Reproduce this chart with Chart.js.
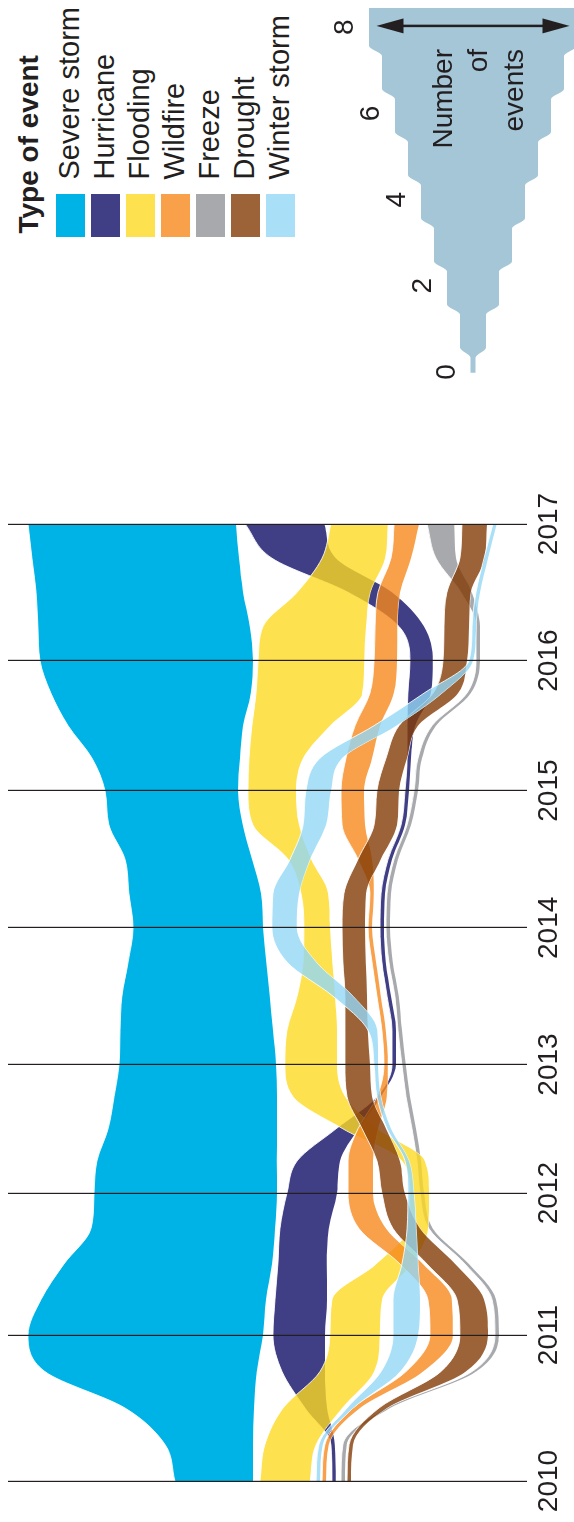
<!DOCTYPE html>
<html><head><meta charset="utf-8">
<script src="https://cdn.jsdelivr.net/npm/chart.js@4.4.1/dist/chart.umd.min.js"></script>
<style>
html,body{margin:0;padding:0;background:#fff;}
body{width:574px;height:1522px;overflow:hidden;position:relative;}
#stage{position:absolute;left:0;top:0;width:1522px;height:574px;transform-origin:0 0;transform:translate(0,1522px) rotate(-90deg);font-family:"Liberation Sans",Arial,sans-serif;color:#231f20;}
#main{position:absolute;left:0;top:0;}
#key{position:absolute;left:1120px;top:300px;}
.title{position:absolute;left:1288.5px;top:14.7px;font-size:28px;line-height:28px;font-weight:bold;white-space:nowrap;}
.item{position:absolute;left:1285px;width:230px;height:29px;}
.sw{position:absolute;left:0;top:0;width:43px;height:29px;}
.lab{position:absolute;left:57.5px;top:-1.5px;font-size:29px;line-height:29px;white-space:nowrap;}
.numtxt{position:absolute;right:49px;top:424.5px;font-size:28px;line-height:35.5px;text-align:right;white-space:nowrap;}
</style></head>
<body>
<div id="stage">
  <canvas id="main" width="1100" height="574"></canvas>
  <canvas id="key" width="402" height="274"></canvas>
  <div class="title">Type of event</div>
  <div id="legend"></div>
  <div class="numtxt">Number<br>of<br>events</div>
</div>
<script>
// ---- data (values in number of events) ----
const years = [2010,2010.25,2010.5,2010.75,2011,2011.25,2011.5,2011.75,2012,2012.25,2012.5,2012.75,2013,2013.25,2013.5,2013.75,2014,2014.25,2014.5,2014.75,2015,2015.25,2015.5,2015.75,2016,2016.25,2016.5,2016.75,2017];
const yearLabels = ['2010','2011','2012','2013','2014','2015','2016','2017'];
const categories = ['Severe storm','Hurricane','Flooding','Wildfire','Freeze','Drought','Winter storm'];

// stream offset (top edge of each band) and band thickness (count)
const severeStormPos = [6.42,6.04,4.50,1.42,0.77,1.27,2.15,3.19,3.31,3.42,3.85,4.08,4.27,4.31,4.38,4.62,4.81,4.65,4.50,3.88,3.73,3.23,2.31,1.65,1.23,1.15,1.08,0.92,0.77];
const severeStormCount = [3.00,3.38,4.96,8.15,9.04,8.65,8.00,7.08,7.04,6.92,6.50,6.27,6.04,5.88,5.69,5.31,5.00,5.08,4.88,5.15,5.12,5.69,6.73,7.69,8.19,8.15,7.96,7.96,8.00];

const hurricanePos = [12.46,12.42,11.42,10.54,10.19,10.27,10.38,10.46,10.73,11.12,12.62,14.19,14.77,14.77,14.58,14.38,14.31,14.35,14.62,15.12,15.27,15.35,15.35,15.38,15.46,15.04,13.08,10.15,9.12];
const hurricaneCount = [0,0,0.85,1.65,2.00,2.00,1.88,1.88,1.92,1.65,0.85,0,0,0,0,0,0,0,0,0,0,0,0.31,0.88,0.88,0.96,1.69,2.46,3.04];

const floodingPos = [9.69,9.88,10.58,12.00,12.38,12.46,14.15,15.38,15.46,15.15,12.88,10.96,10.65,10.73,11.12,11.35,11.38,11.27,10.77,9.42,9.23,9.27,9.38,9.54,9.62,9.81,11.12,12.08,12.42];
const floodingCount = [1.92,1.96,2.27,2.08,1.92,1.92,1.35,0.77,0.73,0.88,1.31,2.00,2.00,1.92,1.46,1.12,1.00,1.04,0.88,1.77,1.85,2.08,3.00,4.08,4.08,3.96,2.81,2.42,2.19];

const wildfirePos = [12.08,12.19,13.27,15.31,16.23,16.15,15.08,13.50,13.08,13.08,13.46,14.19,14.46,14.38,14.19,14.00,13.85,13.92,13.46,12.85,12.81,13.00,13.35,13.92,14.08,14.12,14.23,14.73,14.85];
const wildfireCount = [0,0,0.27,0.65,0.88,0.92,0.88,1.04,0.96,0.96,0.77,0.38,0,0,0,0,0,0,0.54,0.88,0.88,1.00,0.96,0.92,0.88,0.85,0.85,0.77,0.96];

const freezePos = [12.81,12.88,14.54,17.85,18.73,18.62,17.58,16.19,15.85,15.73,15.54,15.31,15.15,15.00,14.88,14.65,14.54,14.58,14.85,15.35,15.62,15.77,16.31,17.65,18.00,18.00,17.42,16.46,16.12];
const freezeCount = [0,0,0,0,0,0,0,0,0,0,0,0,0,0,0,0,0,0,0,0,0,0,0,0,0,0,0.42,0.77,1.04];

const droughtPos = [13.04,13.12,14.27,16.65,17.38,17.27,16.12,14.81,14.38,14.19,13.62,13.04,12.96,12.96,12.96,12.88,12.85,12.92,13.46,14.08,14.19,14.54,15.04,16.35,16.73,16.77,16.88,17.38,17.46];
const droughtCount = [0,0,0.31,0.96,1.08,1.04,1.08,1.04,0.88,0.88,0.92,0.96,0.96,0.88,0.85,0.88,0.88,0.85,0.88,0.88,0.85,0.81,0.73,0.96,0.92,0.96,0.92,0.96,0.96];

const winterStormPos = [11.85,11.96,13.04,14.35,14.81,14.81,15.15,15.35,15.38,15.27,14.58,14.19,14.08,13.85,12.50,10.73,10.15,10.19,10.85,11.35,11.46,12.00,14.08,16.00,17.73,17.85,18.00,18.31,18.65];
const winterStormCount = [0,0,0.23,0.73,0.96,1.04,0.62,0.35,0.23,0,0,0,0,0.35,0.77,1.12,0.96,1.00,0.77,0.88,0.96,0.85,0.85,0.69,0,0,0,0,0];

// key (legend wedge)
const keyLevels = [0,1,2,3,4,5,6,7,8];
const keyTicks = [0,2,4,6,8];

// ---- axis: the source spaces its year lines unevenly; relative width of each year ----
const yearSpans = [146, 142, 128.6, 136.7, 137.3, 130, 136.7];
const spanTotal = yearSpans.reduce((a, b) => a + b, 0);
const spanCum = [0];
yearSpans.forEach((w, i) => spanCum.push(spanCum[i] + w));
function yearToDecimal(v) {
  const t = v - 2010;
  let i = Math.floor(t);
  if (i < 0) i = 0;
  if (i > yearSpans.length - 1) i = yearSpans.length - 1;
  return (spanCum[i] + (t - i) * yearSpans[i]) / spanTotal;
}
function decimalToYear(d) {
  const p = d * spanTotal;
  let i = 0;
  while (i < yearSpans.length - 1 && p > spanCum[i + 1]) i++;
  return 2010 + i + (p - spanCum[i]) / yearSpans[i];
}
class UnevenYearScale extends Chart.LinearScale {
  getPixelForValue(value) {
    if (value === null || value === undefined || isNaN(value)) return NaN;
    return this.getPixelForDecimal(yearToDecimal(value));
  }
  getValueForPixel(pixel) {
    return decimalToYear(this.getDecimalForPixel(pixel));
  }
}
UnevenYearScale.id = 'unevenYear';
UnevenYearScale.defaults = Chart.LinearScale.defaults;
Chart.register(UnevenYearScale);

// ---- styling ----
const FONT = '"Liberation Sans", Arial, sans-serif';
const INK = '#231f20';
const MIN_BAND = 0.15;
const series = [
  {name: categories[0], pos: severeStormPos, count: severeStormCount, swatch: 'rgb(0,179,230)', fill: 'rgb(0,179,230)', order: 7},
  {name: categories[1], pos: hurricanePos, count: hurricaneCount, swatch: 'rgb(64,62,132)', fill: 'rgba(16,14,101,0.8)', order: 6},
  {name: categories[2], pos: floodingPos, count: floodingCount, swatch: 'rgb(253,225,79)', fill: 'rgba(253,218,35,0.8)', order: 4},
  {name: categories[3], pos: wildfirePos, count: wildfireCount, swatch: 'rgb(248,160,74)', fill: 'rgba(246,136,29,0.8)', order: 3},
  {name: categories[4], pos: freezePos, count: freezeCount, swatch: 'rgb(168,169,172)', fill: 'rgba(146,148,151,0.8)', order: 5},
  {name: categories[5], pos: droughtPos, count: droughtCount, swatch: 'rgb(156,99,56)', fill: 'rgba(131,60,6,0.8)', order: 2},
  {name: categories[6], pos: winterStormPos, count: winterStormCount, swatch: 'rgb(169,223,247)', fill: 'rgba(148,215,245,0.8)', order: 1}
];

const datasets = [];
series.forEach(s => {
  const edgeTop = years.map((x, i) => ({x, y: s.pos[i]}));
  const edgeBottom = years.map((x, i) => ({x, y: s.pos[i] + Math.max(s.count[i], MIN_BAND)}));
  const common = {borderColor: 'rgba(255,255,255,0.85)', borderWidth: 1, pointRadius: 0, cubicInterpolationMode: 'monotone', order: s.order};
  datasets.push(Object.assign({label: s.name, data: edgeTop, fill: '+1', backgroundColor: s.fill}, common));
  datasets.push(Object.assign({label: s.name + ' (edge)', data: edgeBottom, fill: false}, common));
});

new Chart(document.getElementById('main'), {
  type: 'line',
  data: {datasets},
  options: {
    responsive: false, animation: false, devicePixelRatio: 1,
    layout: {padding: {left: 41, right: 102, top: 8, bottom: 0}},
    plugins: {legend: {display: false}, tooltip: {enabled: false}},
    scales: {
      x: {
        type: 'unevenYear', min: 2010, max: 2017,
        afterFit(s) { s.height = 47; },
        ticks: {stepSize: 1, padding: 5, color: INK, maxRotation: 0, autoSkip: false,
                font: {family: FONT, size: 28}, callback: (v, i) => yearLabels[i]},
        grid: {color: INK, lineWidth: 1.2, drawTicks: false, z: 1},
        border: {display: false}
      },
      y: {type: 'linear', display: false, min: 0, max: 519 / 26, reverse: true}
    }
  }
});

// legend (HTML text)
const legend = document.getElementById('legend');
series.forEach((s, i) => {
  const item = document.createElement('div');
  item.className = 'item';
  item.style.top = (56 + 35 * i) + 'px';
  item.innerHTML = '<div class="sw" style="background:' + s.swatch + '"></div><div class="lab">' + s.name + '</div>';
  legend.appendChild(item);
});

// key wedge
const keyUpper = [], keyLower = [];
keyLevels.forEach((k, i) => {
  const h = Math.max(k, 0.19) / 2;
  const a = i === 0 ? -0.02 : k - 0.43;
  const b = i === keyLevels.length - 1 ? 8.45 : k + 0.33;
  keyUpper.push({x: a, y: h}, {x: b, y: h});
  keyLower.push({x: a, y: -h}, {x: b, y: -h});
});

const keyDecor = {
  id: 'keyDecor',
  afterDatasetsDraw(chart) {
    const {ctx, scales: {x, y}} = chart;
    ctx.save();
    ctx.fillStyle = INK;
    ctx.font = '28px ' + FONT;
    ctx.textAlign = 'center';
    ctx.textBaseline = 'alphabetic';
    keyTicks.forEach(v => {
      ctx.fillText(String(v), x.getPixelForValue(v), y.getPixelForValue(Math.max(v, 0.19) / 2) - 16);
    });
    const ax = x.getPixelForValue(8.03);
    const y1 = y.getPixelForValue(3.71), y2 = y.getPixelForValue(-3.71);
    ctx.strokeStyle = INK; ctx.lineWidth = 2.5;
    ctx.beginPath(); ctx.moveTo(ax, y1 + 20); ctx.lineTo(ax, y2 - 20); ctx.stroke();
    ctx.beginPath(); ctx.moveTo(ax, y1); ctx.lineTo(ax - 7.5, y1 + 27); ctx.lineTo(ax + 7.5, y1 + 27); ctx.closePath(); ctx.fill();
    ctx.beginPath(); ctx.moveTo(ax, y2); ctx.lineTo(ax - 7.5, y2 - 27); ctx.lineTo(ax + 7.5, y2 - 27); ctx.closePath(); ctx.fill();
    ctx.restore();
  }
};

new Chart(document.getElementById('key'), {
  type: 'line',
  data: {datasets: [
    {label: 'Number of events', data: keyUpper, fill: '+1', backgroundColor: '#a4c6d7', borderWidth: 0, pointRadius: 0, cubicInterpolationMode: 'monotone'},
    {label: 'key edge', data: keyLower, fill: false, borderWidth: 0, pointRadius: 0, cubicInterpolationMode: 'monotone'}
  ]},
  options: {
    responsive: false, animation: false, devicePixelRatio: 1,
    layout: {padding: 0},
    plugins: {legend: {display: false}, tooltip: {enabled: false}},
    scales: {
      x: {type: 'linear', display: false, min: -0.696, max: 8.631},
      y: {type: 'linear', display: false, min: -3.885, max: 6.654}
    }
  },
  plugins: [keyDecor]
});
</script>
</body></html>
